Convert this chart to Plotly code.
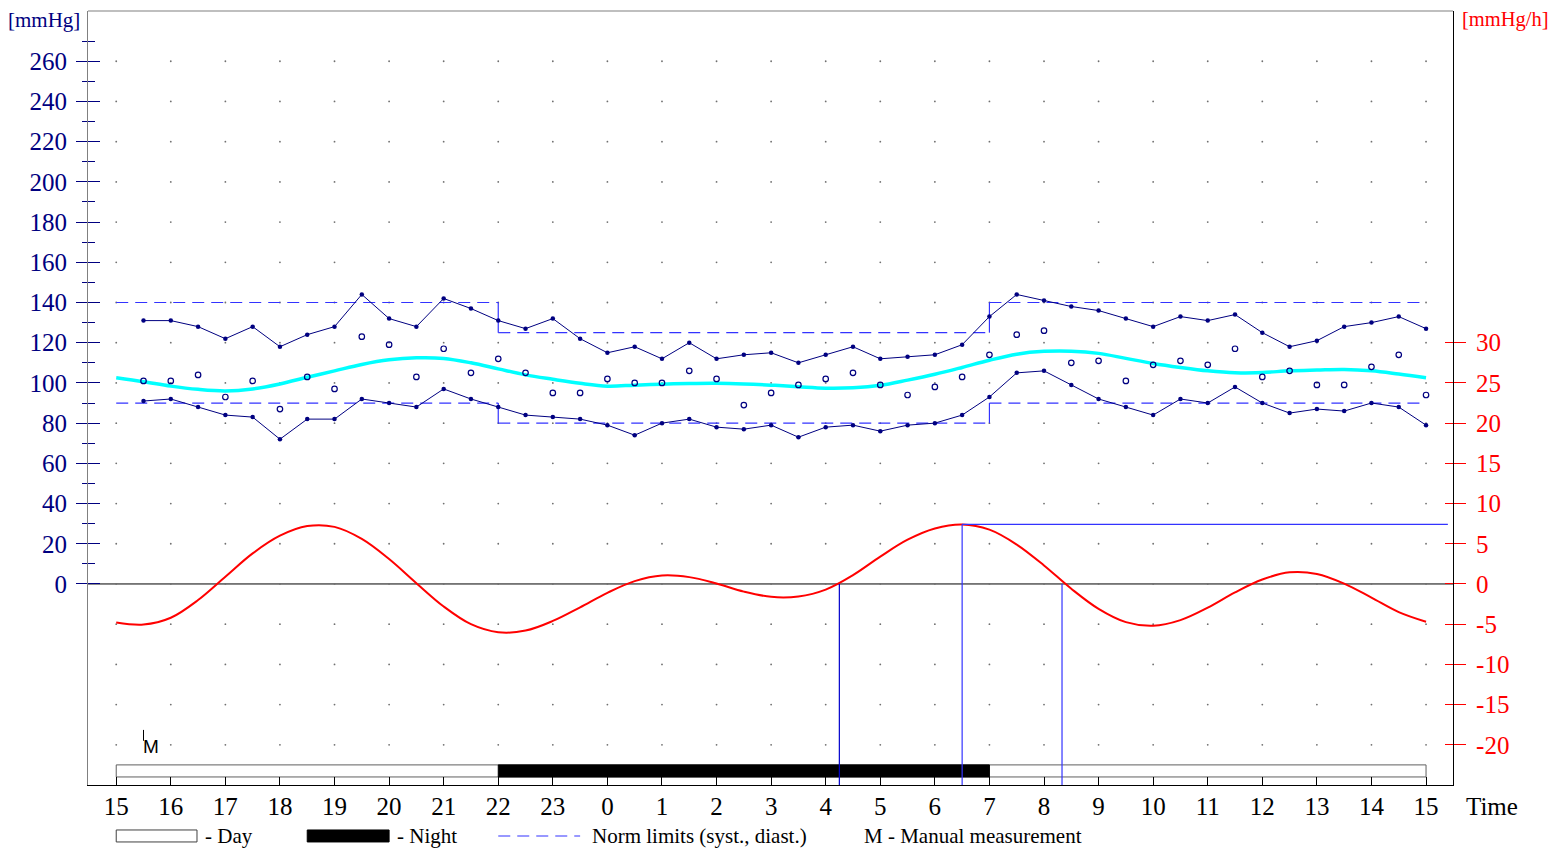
import plotly.graph_objects as go

# ---------------- data ----------------
meas_time = [15.5, 16.0, 16.5, 17.0, 17.5, 18.0, 18.5, 19.0, 19.5, 20.0,
             20.5, 21.0, 21.5, 22.0, 22.5, 23.0, 23.5, 24.0, 24.5, 25.0,
             25.5, 26.0, 26.5, 27.0, 27.5, 28.0, 28.5, 29.0, 29.5, 30.0,
             30.5, 31.0, 31.5, 32.0, 32.5, 33.0, 33.5, 34.0, 34.5, 35.0,
             35.5, 36.0, 36.5, 37.0, 37.5, 38.0, 38.5, 39.0]
systolic = [131, 131, 128, 122, 128, 118, 124, 128, 144, 132,
            128, 142, 137, 131, 127, 132, 122, 115, 118, 112,
            120, 112, 114, 115, 110, 114, 118, 112, 113, 114,
            119, 133, 144, 141, 138, 136, 132, 128, 133, 131,
            134, 125, 118, 121, 128, 130, 133, 127]
diastolic = [91, 92, 88, 84, 83, 72, 82, 82, 92, 90,
             88, 97, 92, 88, 84, 83, 82, 79, 74, 80,
             82, 78, 77, 79, 73, 78, 79, 76, 79, 80,
             84, 93, 105, 106, 99, 92, 88, 84, 92, 90,
             98, 90, 85, 87, 86, 90, 88, 79]
mean_bp = [101, 101, 104, 93, 101, 87, 103, 97, 123, 119,
           103, 117, 105, 112, 105, 95, 95, 102, 100, 100,
           106, 102, 89, 95, 99, 102, 105, 99, 94, 98,
           103, 114, 124, 126, 110, 111, 101, 109, 111, 109,
           117, 103, 106, 99, 99, 108, 114, 94]

curve_time = [15.0, 15.5, 16.0, 16.5, 17.0, 17.5, 18.0, 18.5, 19.0, 19.5,
              20.0, 20.5, 21.0, 21.5, 22.0, 22.5, 23.0, 23.5, 24.0, 24.5,
              25.0, 25.5, 26.0, 26.5, 27.0, 27.5, 28.0, 28.5, 29.0, 29.5,
              30.0, 30.5, 31.0, 31.5, 32.0, 32.5, 33.0, 33.5, 34.0, 34.5,
              35.0, 35.5, 36.0, 36.5, 37.0, 37.5, 38.0, 38.5, 39.0]
trend_bp = [102.6, 100.6, 98.4, 96.8, 96.0, 97.0, 99.5, 102.8, 106.0, 109.2,
            111.5, 112.5, 112.2, 110.0, 107.0, 104.0, 101.8, 99.8, 98.4, 98.9,
            99.4, 99.7, 99.8, 99.5, 98.9, 98.1, 97.4, 97.6, 98.8, 101.4,
            104.3, 107.7, 111.3, 114.3, 115.7, 115.8, 114.7, 112.2, 109.7, 107.7,
            106.0, 105.0, 105.2, 106.0, 106.4, 106.7, 106.0, 104.4, 102.6]
rate = [-4.8, -5.05, -4.2, -2.0, 0.9, 3.8, 6.0, 7.2, 7.1, 5.6,
        3.1, 0.1, -2.8, -5.0, -6.0, -5.8, -4.6, -2.9, -1.1, 0.35,
        1.05, 0.85, 0.05, -0.95, -1.6, -1.55, -0.7, 1.1, 3.4, 5.5,
        6.9, 7.4, 6.75, 4.9, 2.3, -0.6, -3.1, -4.75, -5.2, -4.5,
        -2.95, -1.05, 0.55, 1.45, 1.25, 0.05, -1.7, -3.5, -4.7]

norm_bounds = [15, 22, 31, 39]
norm_sys = [140, 125, 140]
norm_dia = [90, 80, 90]
day_bar = [15, 39]
night_bar = [22, 31]
manual_time = [15.5]
rate_zero_times = [28.25, 32.33]
rate_peak_time = 30.5
rate_peak = 7.42

hour_ticks = list(range(15, 40))
hour_labels = [str(h % 24) for h in hour_ticks]
left_major = list(range(0, 261, 20))
left_minor = list(range(10, 271, 20))
right_ticks = list(range(-20, 31, 5))
right_labels = [str(v) for v in right_ticks]
grid_levels = list(range(-80, 261, 20))

# ---------------- style ----------------
NAVY = "#000080"
NORM = "#3333ff"
SERIF = "Liberation Serif"
X_RANGE = [14.483, 39.494]
Y_RANGE = [-100, 285]
Y2_RANGE = [Y_RANGE[0] / 4, Y_RANGE[1] / 4]
BAR_Y = [-96, -90]
HLINE_END = 39.4
ZERO_LINE_COLORS = ["#0000cc", "#3333ff"]

fig = go.Figure()

# dotted grid (points at intersections)
gx, gy = [], []
for h in hour_ticks:
    for lv in grid_levels:
        gx.append(h)
        gy.append(lv)
fig.add_trace(go.Scatter(x=gx, y=gy, mode="markers",
                         marker=dict(size=1.8, color="#707070"),
                         hoverinfo="skip", showlegend=False))

# norm limits
for i in range(len(norm_sys)):
    for arr in (norm_sys, norm_dia):
        fig.add_trace(go.Scatter(x=[norm_bounds[i], norm_bounds[i + 1]],
                                 y=[arr[i], arr[i]], mode="lines",
                                 line=dict(color=NORM, width=1.2, dash="12px,7px"),
                                 hoverinfo="skip", showlegend=False))
for i in range(1, len(norm_sys)):
    for arr in (norm_sys, norm_dia):
        fig.add_trace(go.Scatter(x=[norm_bounds[i], norm_bounds[i]],
                                 y=[arr[i - 1], arr[i]], mode="lines",
                                 line=dict(color=NORM, width=1.2),
                                 hoverinfo="skip", showlegend=False))

# trend curve (cyan)
fig.add_trace(go.Scatter(x=curve_time, y=trend_bp, mode="lines",
                         line=dict(color="#00ffff", width=3.5, shape="spline"),
                         showlegend=False))

# systolic / diastolic
for arr in (systolic, diastolic):
    fig.add_trace(go.Scatter(x=meas_time, y=arr, mode="lines+markers",
                             line=dict(color=NAVY, width=1),
                             marker=dict(size=4.5, color=NAVY),
                             showlegend=False))
fig.add_trace(go.Scatter(x=meas_time, y=mean_bp, mode="markers",
                         marker=dict(size=5.5, color=NAVY, symbol="circle-open",
                                     line=dict(color=NAVY, width=1.2)),
                         showlegend=False))

# rate curve (red) on right axis
fig.add_trace(go.Scatter(x=curve_time, y=rate, mode="lines", yaxis="y2",
                         line=dict(color="#ff0000", width=2, shape="spline"),
                         showlegend=False))

# analysis lines
for t, c in zip(rate_zero_times, ZERO_LINE_COLORS):
    fig.add_trace(go.Scatter(x=[t, t], y=[0, Y2_RANGE[0]], mode="lines", yaxis="y2",
                             line=dict(color=c, width=1.2),
                             hoverinfo="skip", showlegend=False))
fig.add_trace(go.Scatter(x=[rate_peak_time, rate_peak_time], y=[rate_peak, Y2_RANGE[0]],
                         mode="lines", yaxis="y2", line=dict(color="#3333ff", width=1.2),
                         hoverinfo="skip", showlegend=False))
fig.add_trace(go.Scatter(x=[rate_peak_time, HLINE_END], y=[rate_peak, rate_peak],
                         mode="lines", yaxis="y2", line=dict(color="#3333ff", width=1.2),
                         hoverinfo="skip", showlegend=False))

# manual measurement tick
for t in manual_time:
    fig.add_trace(go.Scatter(x=[t, t], y=[-72.6, -78], mode="lines",
                             line=dict(color="black", width=1),
                             hoverinfo="skip", showlegend=False))

shapes = [
    # zero line
    dict(type="line", xref="paper", yref="y", x0=0, x1=1, y0=0, y1=0,
         line=dict(color="black", width=1), layer="below"),
    # top border
    dict(type="line", xref="paper", yref="paper", x0=0, x1=1, y0=1, y1=1,
         line=dict(color="#808080", width=1.2)),
    # day/night bar
    dict(type="rect", xref="x", yref="y", x0=day_bar[0], x1=day_bar[1],
         y0=BAR_Y[0], y1=BAR_Y[1], fillcolor="white",
         line=dict(color="#606060", width=1), layer="below"),
    dict(type="rect", xref="x", yref="y", x0=night_bar[0], x1=night_bar[1],
         y0=BAR_Y[0], y1=BAR_Y[1], fillcolor="black",
         line=dict(color="black", width=1), layer="below"),
    # legend symbols
    dict(type="rect", xref="x", yref="paper", x0=15.0, x1=16.48, y0=-0.0736, y1=-0.0581,
         fillcolor="white", line=dict(color="#404040", width=1)),
    dict(type="rect", xref="x", yref="paper", x0=18.5, x1=20.0, y0=-0.0736, y1=-0.0581,
         fillcolor="black", line=dict(color="black", width=1)),
    dict(type="line", xref="x", yref="paper", x0=22.0, x1=23.5, y0=-0.0659, y1=-0.0659,
         line=dict(color=NORM, width=1.2, dash="12px,7px")),
]

txt = dict(family=SERIF, size=21, color="black")
annotations = [
    dict(text="- Day", x=16.59, y=-0.0659, xref="x", yref="paper",
         xanchor="left", yanchor="middle", showarrow=False, font=txt),
    dict(text="- Night", x=20.11, y=-0.0659, xref="x", yref="paper",
         xanchor="left", yanchor="middle", showarrow=False, font=txt),
    dict(text="Norm limits (syst., diast.)", x=23.68, y=-0.0659, xref="x", yref="paper",
         xanchor="left", yanchor="middle", showarrow=False, font=txt),
    dict(text="M - Manual measurement", x=28.67, y=-0.0659, xref="x", yref="paper",
         xanchor="left", yanchor="middle", showarrow=False, font=txt),
    dict(text="Time", x=1.0286, y=-0.0284, xref="paper", yref="paper",
         xanchor="center", yanchor="middle", showarrow=False,
         font=dict(family=SERIF, size=25, color="black")),
    dict(text="[mmHg]", x=-0.0322, y=0.9884, xref="paper", yref="paper",
         xanchor="center", yanchor="middle", showarrow=False,
         font=dict(family=SERIF, size=21, color=NAVY)),
    dict(text="[mmHg/h]", x=1.0386, y=0.9884, xref="paper", yref="paper",
         xanchor="center", yanchor="middle", showarrow=False,
         font=dict(family=SERIF, size=20.5, color="#ff0000")),
]
for t in manual_time:
    annotations.append(dict(text="M", x=t, y=-81, xref="x", yref="y",
                            xanchor="left", yanchor="middle", showarrow=False, xshift=-3,
                            font=dict(family="Liberation Sans", size=19, color="black")))

# the page body adds an 8px offset, so the figure is 8px smaller on each side
fig.update_layout(
    width=1551, height=840,
    margin=dict(l=80, r=106, t=3, b=63, pad=0),
    plot_bgcolor="white", paper_bgcolor="white",
    showlegend=False,
    shapes=shapes, annotations=annotations,
    xaxis=dict(range=X_RANGE, tickmode="array", tickvals=hour_ticks, ticktext=hour_labels,
               ticks="inside", ticklen=8, tickcolor="black", tickwidth=1,
               showline=True, linecolor="black", linewidth=1,
               showgrid=False, zeroline=False, ticklabelstandoff=-1,
               tickfont=dict(family=SERIF, size=25, color="black")),
    yaxis=dict(range=Y_RANGE, tickmode="array", tickvals=left_major,
               ticks="outside", ticklen=11, tickcolor=NAVY, tickwidth=1.2,
               minor=dict(tickmode="array", tickvals=left_minor, ticks="outside",
                          ticklen=5, tickcolor=NAVY, tickwidth=1.2),
               showline=True, linecolor="#808080", linewidth=1.2,
               showgrid=False, zeroline=False, ticklabelstandoff=4,
               tickfont=dict(family=SERIF, size=25, color=NAVY)),
    yaxis3=dict(range=Y_RANGE, overlaying="y", side="left", anchor="x",
                tickmode="array", tickvals=left_major, ticks="inside", ticklen=12,
                tickcolor=NAVY, tickwidth=1.2, showticklabels=False,
                minor=dict(tickmode="array", tickvals=left_minor, ticks="inside",
                           ticklen=7, tickcolor=NAVY, tickwidth=1.2),
                showline=False, showgrid=False, zeroline=False),
    yaxis2=dict(range=Y2_RANGE, overlaying="y", side="right", anchor="x",
                tickmode="array", tickvals=right_ticks, ticktext=right_labels,
                ticks="outside", ticklen=12,
                tickcolor="#ff0000", tickwidth=1.2,
                showline=True, linecolor="black", linewidth=1.2,
                showgrid=False, zeroline=False, ticklabelstandoff=5,
                tickfont=dict(family=SERIF, size=25, color="#ff0000")),
    yaxis4=dict(range=Y2_RANGE, overlaying="y", side="right", anchor="x",
                tickmode="array", tickvals=right_ticks, ticks="inside", ticklen=8,
                tickcolor="#ff0000", tickwidth=1.2, showticklabels=False,
                showline=False, showgrid=False, zeroline=False),
)

# dummy traces to activate the tick-only overlay axes
fig.add_trace(go.Scatter(x=[None], y=[None], yaxis="y3", showlegend=False, hoverinfo="skip"))
fig.add_trace(go.Scatter(x=[None], y=[None], yaxis="y4", showlegend=False, hoverinfo="skip"))

fig.write_html("out.html")
